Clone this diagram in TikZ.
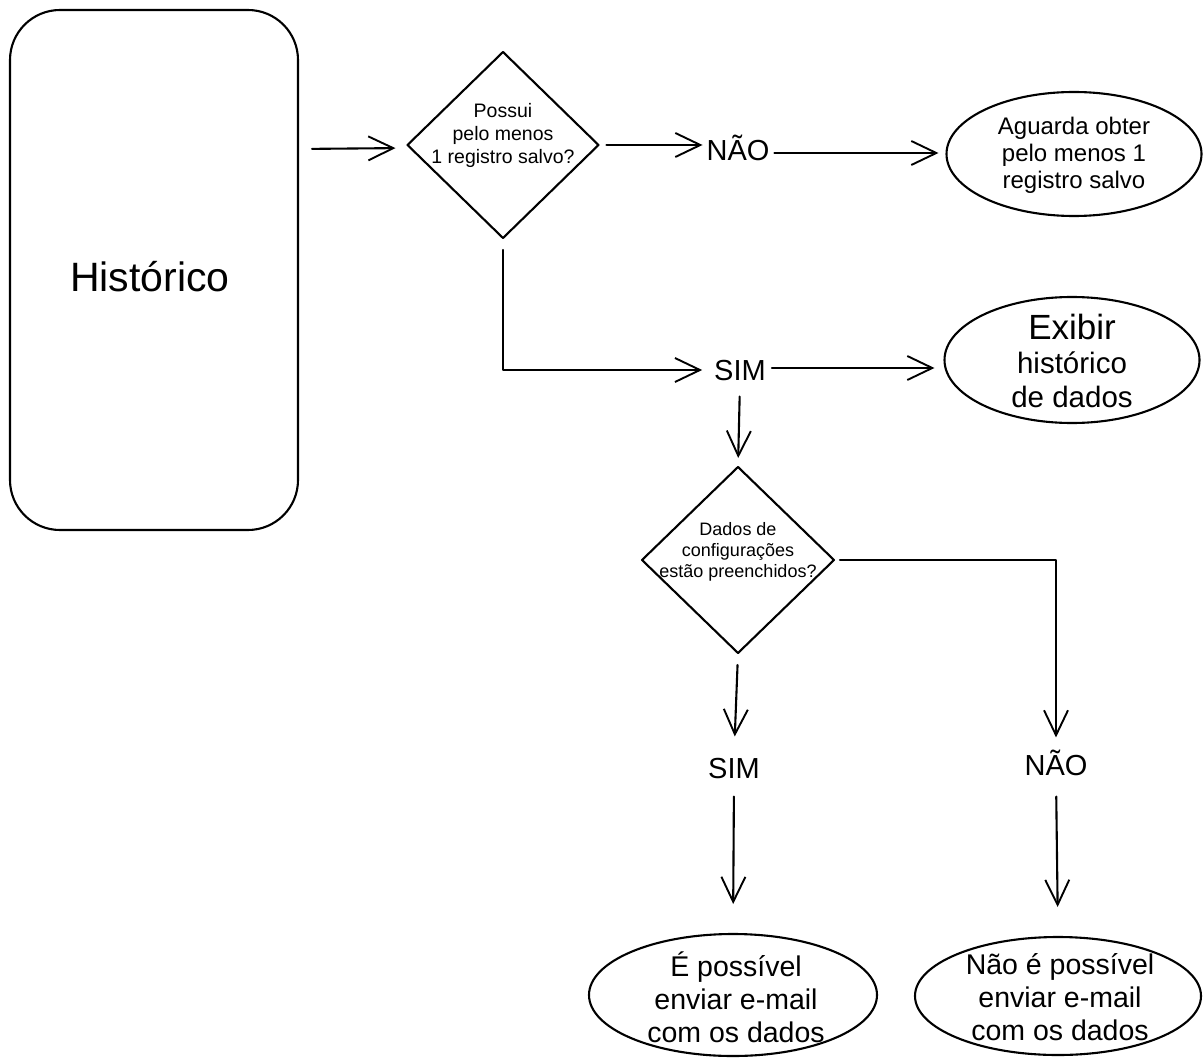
\documentclass[tikz,border=0pt]{standalone}
\usepackage{fontspec}
\setmainfont{Liberation Sans}
\usetikzlibrary{shapes.geometric,arrows.meta}
\begin{document}
\begin{tikzpicture}[x=1pt,y=-1pt,
  line width=2.1pt, line cap=round, line join=round,
  flow/.style={-{Straight Barb[length=25pt,width=24pt,line width=1.9pt]}},
  box/.style={draw, rounded corners=50pt, inner sep=0pt, outer sep=0pt},
  dia/.style={draw, diamond, inner sep=0pt, outer sep=0pt},
  oval/.style={draw, ellipse, inner sep=0pt, outer sep=0pt},
  lbl/.style={inner sep=0pt, text height=21pt, text depth=0pt,
    font=\fontsize{29}{33}\selectfont},
  txt/.style={align=center, inner sep=0pt}]
\useasboundingbox (0,0) rectangle (1204,1059);

% start block
\node[box, minimum width=288pt, minimum height=520pt] (hist) at (154,270) {};
\node[font=\fontsize{41}{46}\selectfont, inner sep=0pt] (histt) at (150,277) {Histórico};

% first decision
\node[dia, minimum width=191pt, minimum height=186pt] (d1) at (503,145) {};
\node[txt, font=\fontsize{19.5}{23}\selectfont] (d1t) at (503,135)
  {Possui\\pelo menos\\1 registro salvo?};

\node[lbl] (n1) at (738,150) {NÃO};
\node[oval, minimum width=255pt, minimum height=124pt] (e1) at (1074,154) {};
\node[txt, font=\fontsize{24}{27}\selectfont] (e1t) at (1074,155)
  {Aguarda obter\\pelo menos 1\\registro salvo};

\node[lbl] (s1) at (740,370) {SIM};
\node[oval, minimum width=255pt, minimum height=126pt] (e2) at (1072,360) {};
\node[txt, font=\fontsize{29.5}{34}\selectfont] (e2t) at (1072,361)
  {{\fontsize{35}{38}\selectfont Exibir}\\histórico\\de dados};

% second decision
\node[dia, minimum width=192pt, minimum height=186pt] (d2) at (738,560) {};
\node[txt, font=\fontsize{18}{21}\selectfont] (d2t) at (738,552)
  {Dados de\\configurações\\estão preenchidos?};

\node[lbl] (s2) at (734,768) {SIM};
\node[lbl] (n2) at (1056,765) {NÃO};

\node[oval, minimum width=288pt, minimum height=122pt] (e3) at (733,995) {};
\node[txt, font=\fontsize{28.5}{33}\selectfont] (e3t) at (736,997)
  {É possível\\enviar e-mail\\com os dados};
\node[oval, minimum width=286pt, minimum height=118pt] (e4) at (1058,996) {};
\node[txt, font=\fontsize{28.5}{33}\selectfont] (e4t) at (1060,997)
  {Não é possível\\enviar e-mail\\com os dados};

% connectors
\draw[flow, shorten <=14pt, shorten >=12pt] ([yshift=-4pt]hist.east |- d1.west) -- ([yshift=-3pt]d1.west);
\draw[flow, shorten <=8pt, shorten >=3pt] (d1.east) -- (d1.east -| n1.west);
\draw[flow, shorten <=4pt, shorten >=8pt] ([yshift=-3pt]n1.east) -- ([yshift=-3pt]n1.east -| e1.west);
\draw[flow, shorten <=12pt, shorten >=11pt] (d1.south) |- (s1.west);
\draw[flow, shorten <=5pt, shorten >=10pt] ([yshift=2pt]s1.east) -- ([yshift=2pt]s1.east -| e2.west);
\draw[flow, shorten <=15pt, shorten >=9pt] (s1.south) -- (d2.north);
\draw[flow, shorten <=6pt, shorten >=16pt] (d2.east) -| (n2.north);
\draw[flow, shorten <=12pt, shorten >=20pt] (d2.south) -- (s2.north);
\draw[flow, shorten <=17pt, shorten >=30pt] (s2.south) -- (e3.north);
\draw[flow, shorten <=20pt, shorten >=30pt] (n2.south) -- (e4.north);
\end{tikzpicture}
\end{document}
